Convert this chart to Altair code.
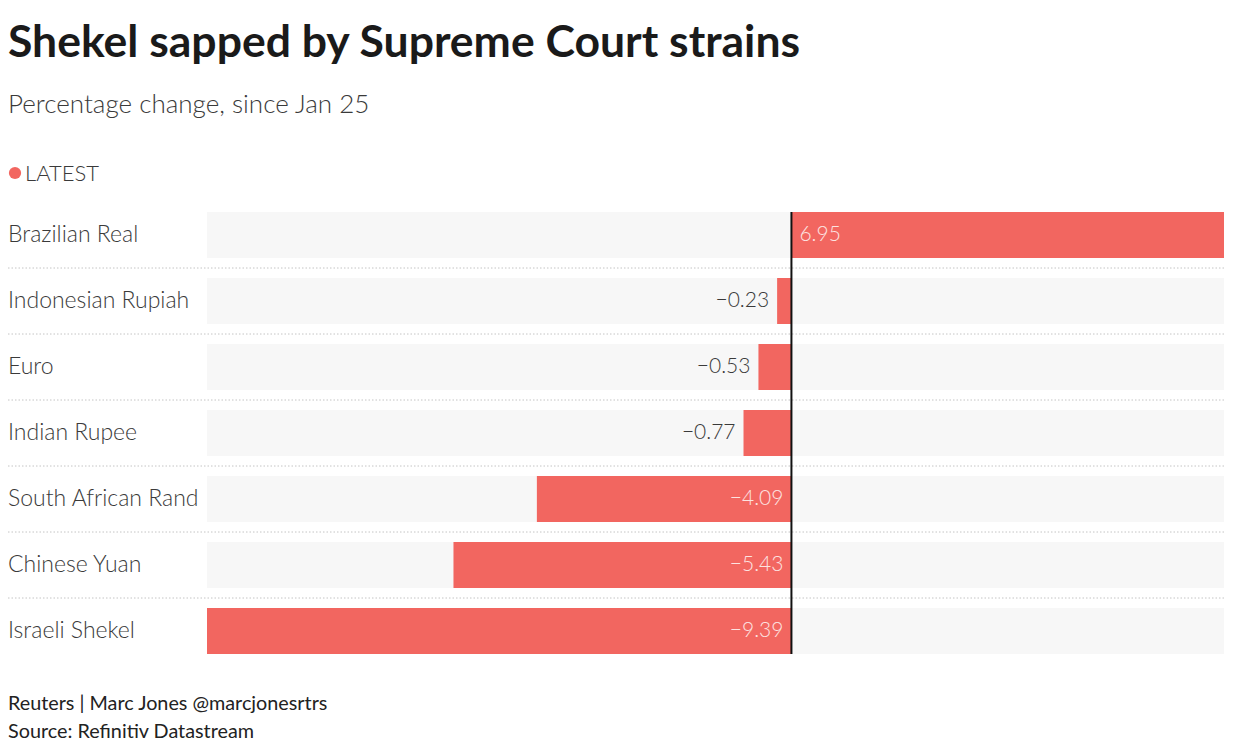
import altair as alt
import pandas as pd

title_text = "Shekel sapped by Supreme Court strains"
subtitle_text = "Percentage change, since Jan 25"
legend_text = "LATEST"
footer_lines = ["Reuters | Marc Jones @marcjonesrtrs", "Source: Refinitiv Datastream"]

currencies = ["Brazilian Real", "Indonesian Rupiah", "Euro", "Indian Rupee",
              "South African Rand", "Chinese Yuan", "Israeli Shekel"]
values = [6.95, -0.23, -0.53, -0.77, -4.09, -5.43, -9.39]

FONT = "Lato"
BAR = "#f26660"

df = pd.DataFrame({
    "name": currencies,
    "value": values,
    "label": [f"{v:.2f}".replace("-", "\u2212") for v in values],
    "order": list(range(len(currencies))),
})

W, H = 1017, 462
PL, PT = 199, 194  # plot origin on page = (8+PL, 8+PT) = (207, 202)
xs = alt.Scale(nice=False, zero=True)
ys = alt.Scale(domain=currencies, paddingInner=0.303, paddingOuter=0.1515)
Y = alt.Y("name:N", scale=ys, axis=None)

base = alt.Chart(df).transform_calculate(zero="0")

bg = base.transform_joinaggregate(
    vmin="min(value)", vmax="max(value)"
).mark_bar(color="#f7f7f7").encode(
    x=alt.X("vmin:Q", scale=xs, axis=None),
    x2="vmax:Q",
    y=Y,
)

seps = base.transform_filter(f"datum.order < {len(currencies) - 1}").mark_rule(
    yOffset=33, color="#c4c4c4", strokeDash=[1.5, 2], strokeWidth=1
).encode(
    y=Y,
    x=alt.value(-PL),
    x2=alt.value(W),
)

bars = base.mark_bar(color=BAR).encode(
    x=alt.X("value:Q", scale=xs, axis=None),
    y=Y,
)

zero = base.transform_filter("datum.order == 0").mark_rule(color="#111111", strokeWidth=2).encode(
    x=alt.X("zero:Q", scale=xs, axis=None),
    y=alt.value(10),
    y2=alt.value(H - 10),
)

cat_labels = base.mark_text(
    align="left", baseline="middle", font=FONT, fontSize=23, fontWeight=300, color="#3a3a3a"
).encode(
    x=alt.value(-PL),
    y=Y,
    text="name:N",
)

pos_lab = base.transform_filter("datum.value > 0").mark_text(
    align="left", baseline="middle", dx=8, font=FONT, fontSize=21, fontWeight=300, color="#fde3e0"
).encode(x=alt.X("zero:Q", scale=xs, axis=None), y=Y, text="label:N")

neg_in = base.transform_filter("datum.value < -2").mark_text(
    align="right", baseline="middle", dx=-8, font=FONT, fontSize=21, fontWeight=300, color="#fde3e0"
).encode(x=alt.X("zero:Q", scale=xs, axis=None), y=Y, text="label:N")

neg_out = base.transform_filter("datum.value >= -2 && datum.value < 0").mark_text(
    align="right", baseline="middle", dx=-8, font=FONT, fontSize=21, fontWeight=300, color="#3a3a3a"
).encode(x=alt.X("value:Q", scale=xs, axis=None), y=Y, text="label:N")


def txt(s, x, y, size, weight, color, baseline="alphabetic"):
    return alt.Chart(pd.DataFrame({"t": [s]})).mark_text(
        align="left", baseline=baseline, font=FONT, fontSize=size, fontWeight=weight, color=color
    ).encode(x=alt.value(x), y=alt.value(y), text="t:N")


# page coords -> plot coords: x-207, y-202
title = txt(title_text, -PL, 57 - 202, 44.5, "bold", "#1a1a1a")
subtitle = txt(subtitle_text, -PL, 113 - 202, 26, 300, "#3a3a3a")
legend_dot = alt.Chart(pd.DataFrame({"k": [legend_text]})).mark_circle(
    size=150, color=BAR, opacity=1
).encode(x=alt.value(15 - 207), y=alt.value(173 - 202))
legend_lab = txt(legend_text, 25 - 207, 181 - 202, 22, 300, "#3a3a3a")
foot1 = txt(footer_lines[0], -PL, 710 - 202, 19.8, "normal", "#222222")
foot2 = txt(footer_lines[1], -PL, 738 - 202, 19.8, "normal", "#222222")

chart = alt.layer(
    bg, seps, bars, zero, cat_labels, pos_lab, neg_in, neg_out,
    title, subtitle, legend_dot, legend_lab, foot1, foot2,
).properties(
    width=W, height=H,
    background="white",
    autosize=alt.AutoSizeParams(type="none"),
    padding={"left": PL, "top": PT, "right": 0, "bottom": 734 - PT - H},
).configure_view(strokeWidth=0, stroke="transparent")

chart.save("out.html", embed_options={"renderer": "svg", "actions": False})
